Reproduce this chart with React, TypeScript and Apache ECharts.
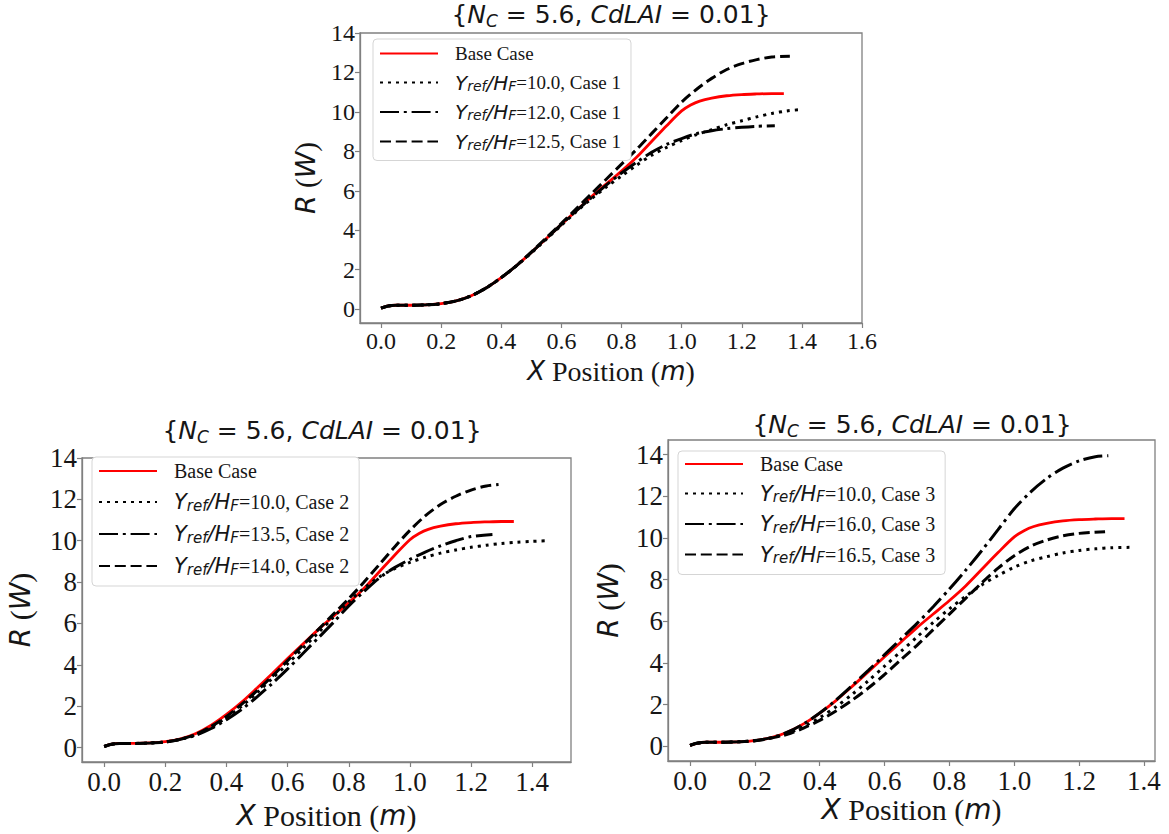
import React, { useEffect, useRef } from 'react';
import * as echarts from 'echarts';

// ---------- tick labels ----------
const xTicksTop = [0, 0.2, 0.4, 0.6, 0.8, 1.0, 1.2, 1.4, 1.6];
const xTicksBottom = [0, 0.2, 0.4, 0.6, 0.8, 1.0, 1.2, 1.4];
const yTicks = [0, 2, 4, 6, 8, 10, 12, 14];

// ---------- base case (same in all panels) ----------
const baseX = [0, 0.02, 0.05, 0.1, 0.15, 0.2, 0.25, 0.3, 0.35, 0.4, 0.45, 0.5, 0.55, 0.6, 0.65, 0.7, 0.75, 0.8, 0.85, 0.9, 0.95, 1.0, 1.03, 1.06, 1.1, 1.15, 1.2, 1.25, 1.3, 1.34];
const baseY = [0.05, 0.15, 0.2, 0.2, 0.22, 0.28, 0.42, 0.68, 1.08, 1.6, 2.2, 2.88, 3.58, 4.3, 5.0, 5.7, 6.35, 7.0, 7.7, 8.5, 9.3, 10.05, 10.35, 10.55, 10.7, 10.82, 10.88, 10.91, 10.93, 10.93];

// ---------- Case 1 (top panel) ----------
const c1x10 = [0, 0.02, 0.05, 0.1, 0.15, 0.2, 0.25, 0.3, 0.35, 0.4, 0.45, 0.5, 0.55, 0.6, 0.65, 0.7, 0.75, 0.8, 0.85, 0.9, 0.95, 1.0, 1.05, 1.1, 1.15, 1.2, 1.25, 1.3, 1.35, 1.4];
const c1y10 = [0.05, 0.15, 0.2, 0.2, 0.22, 0.28, 0.42, 0.68, 1.08, 1.6, 2.2, 2.85, 3.55, 4.25, 4.95, 5.6, 6.2, 6.75, 7.3, 7.8, 8.2, 8.55, 8.85, 9.1, 9.35, 9.55, 9.75, 9.92, 10.05, 10.12];
const c1x12 = [0, 0.02, 0.05, 0.1, 0.15, 0.2, 0.25, 0.3, 0.35, 0.4, 0.45, 0.5, 0.55, 0.6, 0.65, 0.7, 0.75, 0.8, 0.85, 0.9, 0.95, 1.0, 1.05, 1.1, 1.15, 1.2, 1.25, 1.31];
const c1y12 = [0.05, 0.15, 0.2, 0.2, 0.22, 0.28, 0.42, 0.68, 1.08, 1.6, 2.2, 2.88, 3.58, 4.3, 5.0, 5.65, 6.3, 6.9, 7.45, 7.95, 8.35, 8.65, 8.9, 9.05, 9.15, 9.22, 9.27, 9.3];
const c1x125 = [0, 0.02, 0.05, 0.1, 0.15, 0.2, 0.25, 0.3, 0.35, 0.4, 0.45, 0.5, 0.55, 0.6, 0.65, 0.7, 0.75, 0.8, 0.85, 0.9, 0.95, 1.0, 1.05, 1.1, 1.15, 1.2, 1.25, 1.3, 1.36];
const c1y125 = [0.05, 0.15, 0.2, 0.2, 0.22, 0.28, 0.42, 0.68, 1.08, 1.6, 2.2, 2.9, 3.62, 4.35, 5.1, 5.85, 6.6, 7.35, 8.1, 8.9, 9.7, 10.5, 11.15, 11.7, 12.15, 12.45, 12.65, 12.78, 12.82];

// ---------- Case 2 (bottom-left panel) ----------
const c2x10 = [0, 0.02, 0.05, 0.1, 0.15, 0.2, 0.25, 0.3, 0.35, 0.4, 0.45, 0.5, 0.55, 0.6, 0.65, 0.7, 0.75, 0.8, 0.85, 0.9, 0.95, 1.0, 1.05, 1.1, 1.15, 1.2, 1.25, 1.3, 1.35, 1.4, 1.45];
const c2y10 = [0.05, 0.15, 0.2, 0.2, 0.22, 0.27, 0.4, 0.62, 0.98, 1.45, 2.0, 2.65, 3.35, 4.05, 4.8, 5.55, 6.3, 7.05, 7.7, 8.25, 8.65, 8.95, 9.2, 9.4, 9.55, 9.68, 9.78, 9.87, 9.93, 9.97, 10.0];
const c2x135 = [0, 0.02, 0.05, 0.1, 0.15, 0.2, 0.25, 0.3, 0.35, 0.4, 0.45, 0.5, 0.55, 0.6, 0.65, 0.7, 0.75, 0.8, 0.85, 0.9, 0.95, 1.0, 1.05, 1.1, 1.15, 1.2, 1.27];
const c2y135 = [0.05, 0.15, 0.2, 0.2, 0.22, 0.27, 0.4, 0.6, 0.92, 1.35, 1.85, 2.45, 3.1, 3.8, 4.55, 5.3, 6.05, 6.85, 7.55, 8.2, 8.7, 9.1, 9.45, 9.75, 10.0, 10.2, 10.3];
const c2x14 = [0, 0.02, 0.05, 0.1, 0.15, 0.2, 0.25, 0.3, 0.35, 0.4, 0.45, 0.5, 0.55, 0.6, 0.65, 0.7, 0.75, 0.8, 0.85, 0.9, 0.95, 1.0, 1.05, 1.1, 1.15, 1.2, 1.25, 1.29];
const c2y14 = [0.05, 0.15, 0.2, 0.2, 0.22, 0.27, 0.4, 0.64, 1.02, 1.5, 2.1, 2.75, 3.45, 4.2, 4.95, 5.7, 6.45, 7.2, 8.0, 8.85, 9.7, 10.5, 11.2, 11.75, 12.15, 12.45, 12.65, 12.72];

// ---------- Case 3 (bottom-right panel) ----------
const c3x10 = [0, 0.02, 0.05, 0.1, 0.15, 0.2, 0.25, 0.3, 0.35, 0.4, 0.45, 0.5, 0.55, 0.6, 0.65, 0.7, 0.75, 0.8, 0.85, 0.9, 0.95, 1.0, 1.05, 1.1, 1.15, 1.2, 1.25, 1.3, 1.36];
const c3y10 = [0.05, 0.15, 0.2, 0.2, 0.22, 0.27, 0.4, 0.62, 0.95, 1.38, 1.9, 2.5, 3.15, 3.85, 4.55, 5.25, 5.95, 6.6, 7.2, 7.75, 8.2, 8.6, 8.9, 9.1, 9.28, 9.4, 9.48, 9.53, 9.55];
const c3x16 = [0, 0.02, 0.05, 0.1, 0.15, 0.2, 0.25, 0.3, 0.35, 0.4, 0.45, 0.5, 0.55, 0.6, 0.65, 0.7, 0.75, 0.8, 0.85, 0.9, 0.95, 1.0, 1.05, 1.1, 1.15, 1.2, 1.25, 1.29];
const c3y16 = [0.05, 0.15, 0.2, 0.2, 0.22, 0.28, 0.42, 0.68, 1.08, 1.6, 2.22, 2.92, 3.65, 4.4, 5.15, 5.9, 6.7, 7.55, 8.45, 9.4, 10.4, 11.4, 12.2, 12.85, 13.35, 13.7, 13.9, 13.95];
const c3x165 = [0, 0.02, 0.05, 0.1, 0.15, 0.2, 0.25, 0.3, 0.35, 0.4, 0.45, 0.5, 0.55, 0.6, 0.65, 0.7, 0.75, 0.8, 0.85, 0.9, 0.95, 1.0, 1.05, 1.1, 1.15, 1.2, 1.28];
const c3y165 = [0.05, 0.15, 0.2, 0.2, 0.22, 0.27, 0.4, 0.58, 0.88, 1.25, 1.7, 2.22, 2.8, 3.45, 4.15, 4.85, 5.6, 6.35, 7.1, 7.85, 8.55, 9.15, 9.6, 9.9, 10.1, 10.22, 10.3];

const zip = (xs: number[], ys: number[]) => xs.map((x, i) => [x, ys[i]]);

const SERIF = 'Liberation Serif';
const SANS = 'DejaVu Sans';
const FRAME = '#808080';
const INK = '#161616';

const DOT = [3, 5];
const DASH = [11, 4.8];
const DASHDOT = [19, 4.8, 3, 4.8];

function mk(name: string, xs: number[], ys: number[], idx: number, dash: any, color = '#000', width = 3) {
  return {
    type: 'line',
    name,
    xAxisIndex: idx,
    yAxisIndex: idx,
    data: zip(xs, ys),
    symbol: 'none',
    showSymbol: false,
    smooth: 0.3,
    lineStyle: { color, width, type: dash, cap: 'butt' },
    itemStyle: { color },
    emphasis: { disabled: true },
  };
}

const legendRich = (fs: number, ifs: number, sfs: number, lh: number) => ({
  sp: { width: 12, fontSize: fs, lineHeight: lh },
  r: { fontFamily: SERIF, fontSize: fs, color: INK, lineHeight: lh },
  i: { fontFamily: SANS, fontStyle: 'italic', fontSize: ifs, color: INK, lineHeight: lh },
  s: { fontFamily: SANS, fontStyle: 'italic', fontSize: sfs, color: INK, lineHeight: 14, verticalAlign: 'bottom' },
});

const legendFmt = (name: string) => {
  if (name === 'Base Case') return '{sp| }{r|Base Case}';
  const m = name.match(/=(.*)$/);
  return '{sp| }{i|Y}{s|ref}{i|/H}{s|F}{r|=' + (m ? m[1] : '') + '}';
};

function legend(left: number, top: number, names: string[], fs: number, ifs: number, sfs: number, lh: number, gap: number, pad: number[]) {
  return {
    orient: 'vertical',
    left,
    top,
    data: names,
    selectedMode: false,
    itemWidth: 58,
    itemHeight: 12,
    itemGap: gap,
    padding: pad,
    backgroundColor: '#fff',
    borderColor: '#d5d5d5',
    borderWidth: 1,
    borderRadius: 4,
    formatter: legendFmt,
    itemStyle: { opacity: 0 },
    textStyle: { rich: legendRich(fs, ifs, sfs, lh), fontSize: fs, fontFamily: SERIF },
  };
}

const nameRich = (fs: number) => ({
  i: { fontFamily: SANS, fontStyle: 'italic', fontSize: fs, color: INK },
  t: { fontFamily: SERIF, fontSize: fs + 2, color: INK },
});

const tickRich = (fs: number) => ({ a: { fontFamily: SERIF, fontSize: fs, color: INK } });

function xAxis(idx: number, min: number, max: number, ticks: number[], fs: number, nfs: number, gap: number) {
  return {
    type: 'value',
    gridIndex: idx,
    min,
    max,
    axisLine: { show: true, onZero: false, lineStyle: { color: FRAME, width: 1.3 } },
    axisTick: { show: true, length: 5, inside: false, customValues: ticks, lineStyle: { color: FRAME, width: 1.2 } },
    axisLabel: {
      customValues: ticks,
      formatter: (v: number) => '{a|' + v.toFixed(1) + '}',
      rich: tickRich(fs),
      fontFamily: SERIF,
      fontSize: fs,
      color: INK,
      margin: 6,
    },
    splitLine: { show: false },
    name: '{i|X}{t| Position (}{i|m}{t|)}',
    nameLocation: 'middle',
    nameGap: gap,
    nameTextStyle: { rich: nameRich(nfs), fontFamily: SERIF, fontSize: nfs },
  };
}

function yAxis(idx: number, min: number, max: number, fs: number, nfs: number, gap: number) {
  return {
    type: 'value',
    gridIndex: idx,
    min,
    max,
    axisLine: { show: true, onZero: false, lineStyle: { color: FRAME, width: 1.3 } },
    axisTick: { show: true, length: 5, inside: false, customValues: yTicks, lineStyle: { color: FRAME, width: 1.2 } },
    axisLabel: {
      customValues: yTicks,
      formatter: (v: number) => '{a|' + String(v) + '}',
      rich: tickRich(fs),
      fontFamily: SERIF,
      fontSize: fs,
      color: INK,
      margin: 5,
    },
    splitLine: { show: false },
    name: '{i|R}{t| (}{i|W}{t|)}',
    nameLocation: 'middle',
    nameGap: gap,
    nameTextStyle: { rich: nameRich(nfs), fontFamily: SERIF, fontSize: nfs },
  };
}

const titleRich = {
  t: { fontFamily: SANS, fontSize: 25, color: INK, lineHeight: 30 },
  i: { fontFamily: SANS, fontStyle: 'italic', fontSize: 25, color: INK, lineHeight: 30 },
  s: { fontFamily: SANS, fontStyle: 'italic', fontSize: 17, color: INK, lineHeight: 14, verticalAlign: 'bottom' },
};

function title(x: number, y: number) {
  return {
    type: 'text',
    x,
    y,
    style: {
      text: '{t|{}{i|N}{s|C}{t| = 5.6, }{i|CdLAI}{t| = 0.01}{t|\u007D}',
      rich: titleRich,
      align: 'center',
      verticalAlign: 'middle',
      fontFamily: SANS,
      fontSize: 25,
      fill: INK,
    },
  };
}

export default function App() {
  const ref = useRef<HTMLDivElement>(null);
  useEffect(() => {
    if (!ref.current) return;
    const chart = echarts.init(ref.current, null, { renderer: 'svg' });
    const n1 = ['Base Case', 'Y_ref/H_F=10.0, Case 1', 'Y_ref/H_F=12.0, Case 1', 'Y_ref/H_F=12.5, Case 1'];
    const n2 = ['Base Case', 'Y_ref/H_F=10.0, Case 2', 'Y_ref/H_F=13.5, Case 2', 'Y_ref/H_F=14.0, Case 2'];
    const n3 = ['Base Case', 'Y_ref/H_F=10.0, Case 3', 'Y_ref/H_F=16.0, Case 3', 'Y_ref/H_F=16.5, Case 3'];
    const option: any = {
      animation: false,
      backgroundColor: '#fff',
      textStyle: { fontFamily: SERIF },
      grid: [
        { left: 360, top: 33, width: 502, height: 290, show: true, borderColor: FRAME, borderWidth: 1.3, backgroundColor: 'transparent' },
        { left: 82, top: 458, width: 489, height: 304, show: true, borderColor: FRAME, borderWidth: 1.3, backgroundColor: 'transparent' },
        { left: 668, top: 440, width: 487, height: 321, show: true, borderColor: FRAME, borderWidth: 1.3, backgroundColor: 'transparent' },
      ],
      xAxis: [
        xAxis(0, -0.07, 1.6, xTicksTop, 24, 26, 34),
        xAxis(1, -0.0727, 1.527, xTicksBottom, 27, 28, 38),
        xAxis(2, -0.068, 1.434, xTicksBottom, 27, 28, 33),
      ],
      yAxis: [
        yAxis(0, -0.7, 14, 24, 27, 40),
        yAxis(1, -0.7, 14, 27, 28, 47),
        yAxis(2, -0.7, 14.7, 27, 28, 45),
      ],
      legend: [
        legend(373, 39, n1, 19, 20, 14, 20, 9.5, [5, 10, 9, 6]),
        legend(92, 457, n2, 20, 21, 15, 22, 10.5, [4, 10, 9, 6]),
        legend(678, 451, n3, 20, 21, 15, 22, 9, [3, 10, 9, 6]),
      ],
      graphic: [title(611, 14), title(322, 430), title(912, 424)],
      series: [
        mk('Base Case', baseX, baseY, 0, 'solid', '#ff0000', 2.8),
        mk(n1[1], c1x10, c1y10, 0, DOT),
        mk(n1[2], c1x12, c1y12, 0, DASHDOT),
        mk(n1[3], c1x125, c1y125, 0, DASH),
        mk('Base Case', baseX, baseY, 1, 'solid', '#ff0000', 2.8),
        mk(n2[1], c2x10, c2y10, 1, DOT),
        mk(n2[2], c2x135, c2y135, 1, DASHDOT),
        mk(n2[3], c2x14, c2y14, 1, DASH),
        mk('Base Case', baseX, baseY, 2, 'solid', '#ff0000', 2.8),
        mk(n3[1], c3x10, c3y10, 2, DOT),
        mk(n3[2], c3x16, c3y16, 2, DASHDOT),
        mk(n3[3], c3x165, c3y165, 2, DASH),
      ],
    };
    chart.setOption(option);
    return () => chart.dispose();
  }, []);
  return <div ref={ref} style={{ position: 'absolute', left: 0, top: 0, width: 1169, height: 834 }} />;
}
